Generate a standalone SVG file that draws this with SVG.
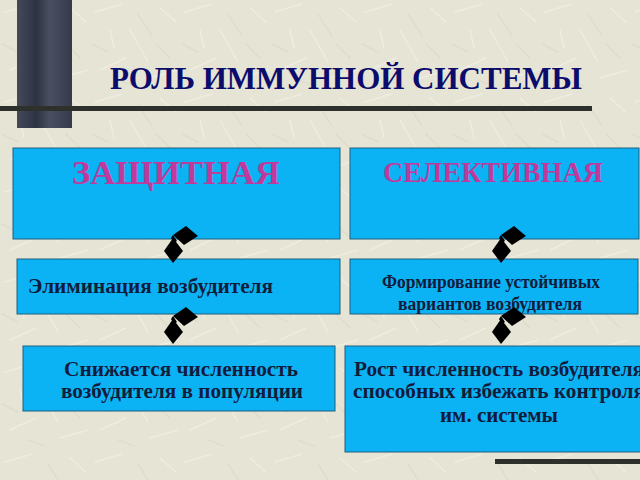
<svg xmlns="http://www.w3.org/2000/svg" width="640" height="480" viewBox="0 0 640 480">
  <defs>
    <pattern id="tex" width="90" height="90" patternUnits="userSpaceOnUse">
      <rect width="90" height="90" fill="#e6e4d4"/>
      <g stroke="#eeede2" stroke-width="1.5" fill="none" stroke-linecap="round">
        <path d="M5 12 L32 4"/>
        <path d="M40 30 L58 62"/>
        <path d="M70 8 L86 22"/>
        <path d="M10 70 L36 58"/>
        <path d="M60 78 L88 70"/>
        <path d="M20 30 L24 48"/>
      </g>
      <g stroke="#dddbc9" stroke-width="1.2" fill="none" stroke-linecap="round">
        <path d="M48 14 L62 36"/>
        <path d="M2 44 L18 52"/>
        <path d="M66 44 L80 58"/>
        <path d="M28 80 L44 86"/>
      </g>
    </pattern>
    <linearGradient id="bar" x1="0" y1="0" x2="1" y2="0">
      <stop offset="0" stop-color="#454a5a"/>
      <stop offset="0.35" stop-color="#2e3242"/>
      <stop offset="0.6" stop-color="#4a5062"/>
      <stop offset="1" stop-color="#353a4a"/>
    </linearGradient>
    <g id="conn">
      <polygon points="0,-28 13,-37 25,-27 11,-18"/>
      <polygon points="0,-25 10,-12 0,0 -9,-12"/>
      <polygon points="0,-28 4,-22 1,-20 -2,-25"/>
    </g>
    <style>
      .box { fill: #0bb3f5; stroke: #1f5f7c; stroke-width: 1; }
      .head { font-family: "Liberation Serif", "Times New Roman", serif; font-weight: bold; fill: #c03a9b; }
      .txt { font-family: "Liberation Serif", "Times New Roman", serif; font-weight: bold; fill: #111c3c; }
      .title { font-family: "Liberation Serif", "Times New Roman", serif; font-weight: bold; fill: #0b0c6c; }
      .c { fill: #000000; }
    </style>
  </defs>

  <rect width="640" height="480" fill="url(#tex)"/>

  <rect x="17" y="0" width="55" height="128" fill="url(#bar)"/>
  <rect x="0" y="106" width="592" height="5" fill="#2e302c"/>
  <rect x="17" y="106" width="55" height="5" fill="#2e302c"/>
  <rect x="495" y="459" width="145" height="5" fill="#2e302c"/>

  <text class="title" x="110" y="89" font-size="31" textLength="472" lengthAdjust="spacingAndGlyphs">РОЛЬ ИММУННОЙ СИСТЕМЫ</text>

  <g id="node-zashchitnaya">
    <rect class="box" x="13" y="148" width="327" height="91"/>
    <text class="head" x="176" y="184" font-size="34" text-anchor="middle" textLength="208" lengthAdjust="spacingAndGlyphs">ЗАЩИТНАЯ</text>
  </g>

  <g id="node-selektivnaya">
    <rect class="box" x="350" y="148" width="289" height="91"/>
    <text class="head" x="493" y="182" font-size="29" text-anchor="middle" textLength="220" lengthAdjust="spacingAndGlyphs">СЕЛЕКТИВНАЯ</text>
  </g>

  <g id="node-eliminatsiya">
    <rect class="box" x="17" y="259" width="323" height="55"/>
    <text class="txt" x="28" y="293" font-size="21" textLength="245" lengthAdjust="spacingAndGlyphs">Элиминация возбудителя</text>
  </g>

  <g id="node-formirovanie">
    <rect class="box" x="350" y="259" width="288" height="55"/>
    <text class="txt" x="491" y="288" font-size="18" text-anchor="middle" textLength="218" lengthAdjust="spacingAndGlyphs">Формирование устойчивых</text>
    <text class="txt" x="490" y="310" font-size="18" text-anchor="middle" textLength="184" lengthAdjust="spacingAndGlyphs">вариантов возбудителя</text>
  </g>

  <g id="node-snizhaetsya">
    <rect class="box" x="23" y="346" width="312" height="65"/>
    <text class="txt" x="181" y="376" font-size="21" text-anchor="middle" textLength="234" lengthAdjust="spacingAndGlyphs">Снижается численность</text>
    <text class="txt" x="182" y="398" font-size="21" text-anchor="middle" textLength="242" lengthAdjust="spacingAndGlyphs">возбудителя в популяции</text>
  </g>

  <g id="node-rost">
    <rect class="box" x="345" y="346" width="300" height="106"/>
    <text class="txt" x="499" y="376" font-size="21" text-anchor="middle" textLength="290" lengthAdjust="spacingAndGlyphs">Рост численность возбудителя</text>
    <text class="txt" x="499" y="398" font-size="21" text-anchor="middle" textLength="292" lengthAdjust="spacingAndGlyphs">способных избежать контроля</text>
    <text class="txt" x="499" y="422" font-size="21" text-anchor="middle" textLength="118" lengthAdjust="spacingAndGlyphs">им. системы</text>
  </g>

  <g id="connectors" class="c">
    <use href="#conn" x="173" y="263"/>
    <use href="#conn" x="173" y="344"/>
    <use href="#conn" x="501" y="263"/>
    <use href="#conn" x="501" y="344"/>
  </g>
</svg>
